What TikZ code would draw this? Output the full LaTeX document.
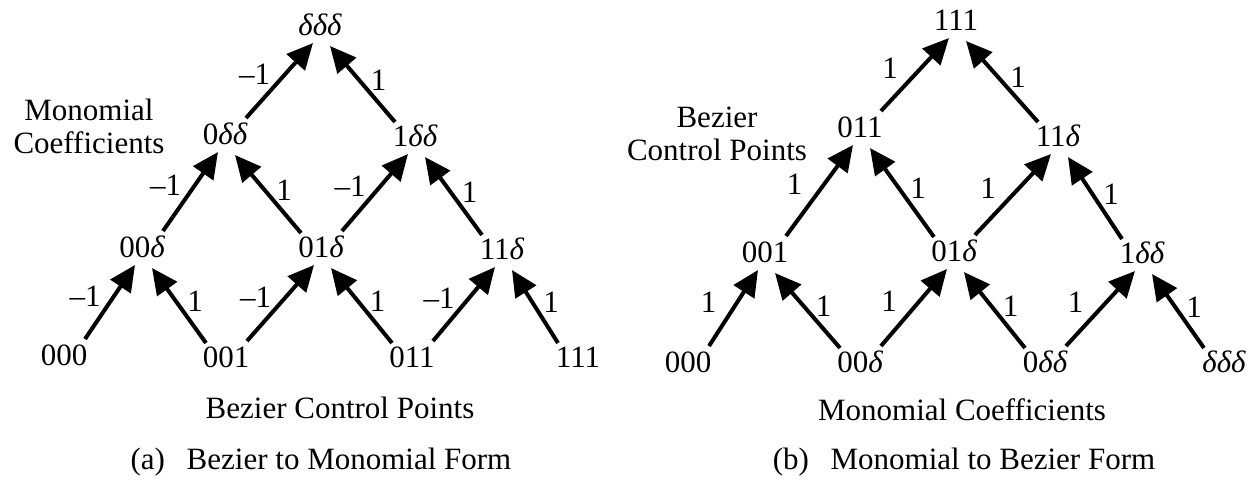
\documentclass[tikz,border=0pt]{standalone}
\usepackage{fontspec}
\setmainfont{Liberation Serif}
\usetikzlibrary{arrows.meta,calc}
\newcommand{\dlt}{{\itshape δ}}
\newcommand{\upr}[3]{\draw[arr] ($(#1)+(21,-16)$) -- node[wl, midway, xshift=-25pt, yshift=6pt]{#3} ($(#2)+(-7,18)$);}
\newcommand{\upl}[3]{\draw[arr] ($(#1)+(-20,-14)$) -- node[wl, midway, xshift=16pt, yshift=4pt]{#3} ($(#2)+(10,21)$);}
\begin{document}
\begin{tikzpicture}[x=1pt,y=-1pt,
  lbl/.style={font=\fontsize{31}{33}\selectfont, inner sep=0pt},
  wl/.style={font=\fontsize{31}{33}\selectfont, inner sep=0pt},
  arr/.style={line width=4pt, -{Triangle[length=26pt,width=24pt]}}]
\path[use as bounding box] (0,0) rectangle (1253,491);
% left diagram
\node[lbl] (a000) at (64,355) {000};
\node[lbl] (a001) at (226,357) {001};
\node[lbl] (a011) at (412,357) {011};
\node[lbl] (a111) at (578,357) {111};
\node[lbl] (a00d) at (142,247) {00\dlt};
\node[lbl] (a01d) at (321,247) {01\dlt};
\node[lbl] (a11d) at (502,249) {11\dlt};
\node[lbl] (a0dd) at (225,134) {0\dlt\dlt};
\node[lbl] (a1dd) at (415,136) {1\dlt\dlt};
\node[lbl] (addd) at (320,25) {\dlt\dlt\dlt};
\node[lbl, align=center] (amc) at (89,126) {Monomial\\Coefficients};
\node[lbl] (abcp) at (340,408) {Bezier Control Points};
\node[lbl] (acap) at (321,462) {(a)\hspace{0.7em}Bezier to Monomial Form};
\upr{a000}{a00d}{–1}
\upl{a001}{a00d}{1}
\upr{a001}{a01d}{–1}
\upl{a011}{a01d}{1}
\upr{a011}{a11d}{–1}
\upl{a111}{a11d}{1}
\upr{a00d}{a0dd}{–1}
\upl{a01d}{a0dd}{1}
\upr{a01d}{a1dd}{–1}
\upl{a11d}{a1dd}{1}
\upr{a0dd}{addd}{–1}
\upl{a1dd}{addd}{1}
% right diagram
\node[lbl] (b000) at (688,362) {000};
\node[lbl] (b00d) at (860,362) {00\dlt};
\node[lbl] (b0dd) at (1045,362) {0\dlt\dlt};
\node[lbl] (bddd) at (1224,362) {\dlt\dlt\dlt};
\node[lbl] (b001) at (765,252) {001};
\node[lbl] (b01d) at (954,251) {01\dlt};
\node[lbl] (b1dd) at (1142,253) {1\dlt\dlt};
\node[lbl] (b011) at (860,127) {011};
\node[lbl] (b11d) at (1058,136) {11\dlt};
\node[lbl] (b111) at (956,20) {111};
\node[lbl, align=center] (bbcp) at (717,134) {Bezier\\Control Points};
\node[lbl] (bmc) at (962,410) {Monomial Coefficients};
\node[lbl] (bcap) at (964,462) {(b)\hspace{0.7em}Monomial to Bezier Form};
\upr{b000}{b001}{1}
\upl{b00d}{b001}{1}
\upr{b00d}{b01d}{1}
\upl{b0dd}{b01d}{1}
\upr{b0dd}{b1dd}{1}
\upl{bddd}{b1dd}{1}
\upr{b001}{b011}{1}
\upl{b01d}{b011}{1}
\upr{b01d}{b11d}{1}
\upl{b1dd}{b11d}{1}
\upr{b011}{b111}{1}
\upl{b11d}{b111}{1}
\end{tikzpicture}
\end{document}
